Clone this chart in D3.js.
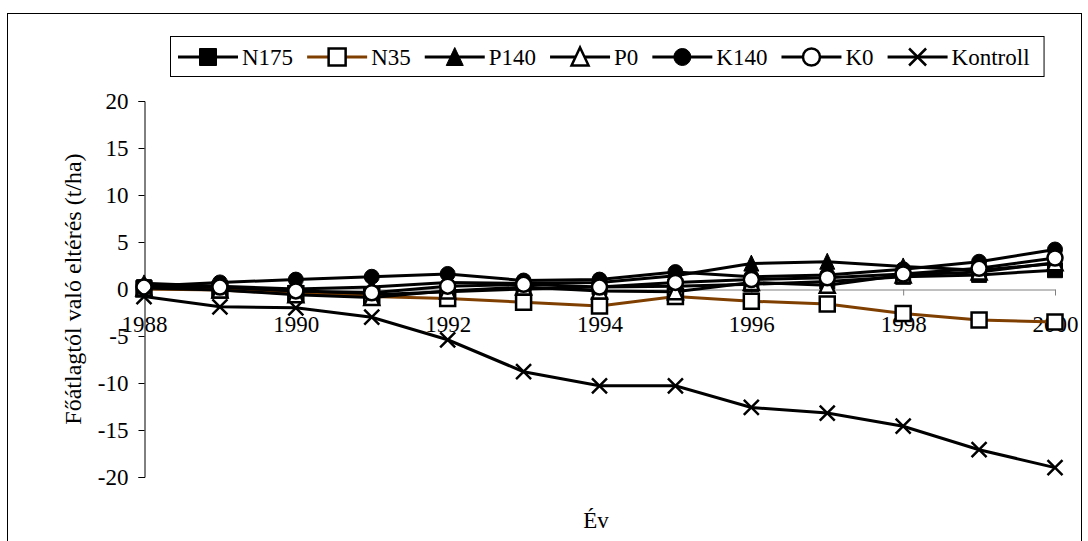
<!DOCTYPE html>
<html>
<head>
<meta charset="utf-8">
<style>
body { margin: 0; background: #fff; }
svg { display: block; }
</style>
</head>
<body>
<svg width="1088" height="541"></svg>
<script src="https://cdn.jsdelivr.net/npm/d3@7/dist/d3.min.js"></script>
<script>
var years = [1988, 1989, 1990, 1991, 1992, 1993, 1994, 1995, 1996, 1997, 1998, 1999, 2000];
var seriesNames = ["N175", "N35", "P140", "P0", "K140", "K0", "Kontroll"];
var n175 = [0.2, 0.1, -0.4, -0.6, -0.3, 0.0, 0.2, 0.3, 0.5, 0.8, 1.3, 1.5, 2.0];
var n35 = [0.0, -0.1, -0.5, -0.8, -1.0, -1.4, -1.8, -0.8, -1.3, -1.6, -2.6, -3.3, -3.5];
var p140 = [0.6, 0.3, 0.0, 0.2, 0.7, 0.6, 0.7, 1.4, 2.7, 2.9, 2.4, 2.0, 2.7];
var p0 = [0.1, -0.1, -0.6, -0.9, -0.2, 0.2, -0.2, -0.3, 0.7, 0.4, 1.5, 1.8, 2.8];
var k140 = [0.3, 0.7, 1.0, 1.3, 1.6, 0.9, 1.0, 1.8, 1.3, 1.5, 2.1, 2.9, 4.2];
var k0 = [0.2, 0.2, -0.2, -0.4, 0.3, 0.5, 0.2, 0.7, 1.0, 1.2, 1.6, 2.2, 3.3];
var kontroll = [-0.8, -1.9, -2.0, -3.0, -5.4, -8.8, -10.3, -10.3, -12.6, -13.2, -14.6, -17.1, -19.0];
var yTicks = [-20, -15, -10, -5, 0, 5, 10, 15, 20];
var xTicks = [1988, 1990, 1992, 1994, 1996, 1998, 2000];

var allValues = [n175, n35, p140, p0, k140, k0, kontroll];
var markers = ["square", "square", "triangle", "triangle", "circle", "circle", "x"];
var filled = [true, false, true, false, true, false, false];
var colors = ["#000", "#7f3f00", "#000", "#000", "#000", "#000", "#000"];
var serif = "'Liberation Serif', 'Times New Roman', serif";

var svg = d3.select("svg");

// outer chart border
svg.append("rect")
  .attr("x", 7.5).attr("y", 13.5)
  .attr("width", 1074).attr("height", 540)
  .attr("fill", "none").attr("stroke", "#000").attr("stroke-width", 1);

var x = d3.scaleLinear().domain([1988, 2000]).range([144, 1055]);
var y = d3.scaleLinear().domain([-20, 20]).range([477, 101]);

// marker shape
function markerPath(type, s) {
  var h = s / 2;
  if (type === "square") return "M" + (-h) + "," + (-h) + "h" + s + "v" + s + "h" + (-s) + "Z";
  if (type === "triangle") return "M0," + (-h - 1) + "L" + h + "," + (h) + "L" + (-h) + "," + (h) + "Z";
  if (type === "circle") return d3.symbol().type(d3.symbolCircle).size(Math.PI * h * h)();
  return "M" + (-h) + "," + (-h) + "L" + h + "," + h + "M" + h + "," + (-h) + "L" + (-h) + "," + h;
}

function drawMarker(sel, i, size) {
  sel.append("path")
    .attr("d", markerPath(markers[i], size))
    .attr("fill", markers[i] === "x" ? "none" : (filled[i] ? "#000" : "#fff"))
    .attr("stroke", "#000")
    .attr("stroke-width", filled[i] ? 1 : 2.5);
}

// y axis
var yAxis = svg.append("g")
  .attr("transform", "translate(144.5,0)")
  .call(d3.axisLeft(y).tickValues(yTicks).tickFormat(function(d) { return String(d); })
    .tickSize(6).tickPadding(10));
yAxis.attr("font-family", serif).attr("font-size", 23);
yAxis.select(".domain").attr("stroke", "#000");
yAxis.selectAll(".tick line").attr("stroke", "#000");
yAxis.selectAll(".tick text").attr("fill", "#000");

// x axis at zero
var xAxis = svg.append("g")
  .attr("transform", "translate(0," + (y(0) + 0.5) + ")")
  .call(d3.axisBottom(x).tickValues(xTicks).tickFormat(d3.format("d"))
    .tickSize(6).tickPadding(20).tickSizeOuter(0));
xAxis.attr("font-family", serif).attr("font-size", 23);
xAxis.select(".domain").attr("stroke", "#808080");
xAxis.selectAll(".tick line").attr("stroke", "#808080");
xAxis.selectAll(".tick text").attr("fill", "#000");

// lines + markers
var line = d3.line()
  .x(function(d, i) { return x(years[i]); })
  .y(function(d) { return y(d); });

allValues.forEach(function(vals, i) {
  var g = svg.append("g");
  g.append("path")
    .attr("d", line(vals))
    .attr("fill", "none")
    .attr("stroke", colors[i])
    .attr("stroke-width", 3);
  vals.forEach(function(v, j) {
    var m = g.append("g").attr("transform", "translate(" + x(years[j]) + "," + y(v) + ")");
    drawMarker(m, i, 15);
  });
});

// axis titles
svg.append("text")
  .attr("transform", "translate(81,289) rotate(-90)")
  .attr("text-anchor", "middle")
  .attr("font-family", serif)
  .attr("font-size", 24)
  .text("Főátlagtól való eltérés (t/ha)");

svg.append("text")
  .attr("x", 596).attr("y", 528)
  .attr("text-anchor", "middle")
  .attr("font-family", serif)
  .attr("font-size", 23)
  .text("Év");

// legend
var legend = svg.append("g");
var legendBox = legend.append("rect")
  .attr("x", 170.5).attr("y", 36.5)
  .attr("height", 40)
  .attr("fill", "#fff").attr("stroke", "#000");
var lx = 178, ly = 57;
seriesNames.forEach(function(name, i) {
  var item = legend.append("g");
  item.append("line")
    .attr("x1", lx).attr("x2", lx + 60)
    .attr("y1", ly).attr("y2", ly)
    .attr("stroke", colors[i]).attr("stroke-width", 3);
  var m = item.append("g").attr("transform", "translate(" + (lx + 30) + "," + ly + ")");
  drawMarker(m, i, 17);
  var t = item.append("text")
    .attr("x", lx + 64).attr("y", ly)
    .attr("dy", "0.35em")
    .attr("font-family", serif)
    .attr("font-size", 23)
    .text(name);
  lx = lx + 64 + t.node().getComputedTextLength() + 14;
});
legendBox.attr("width", lx - 170);
</script>
</body>
</html>
